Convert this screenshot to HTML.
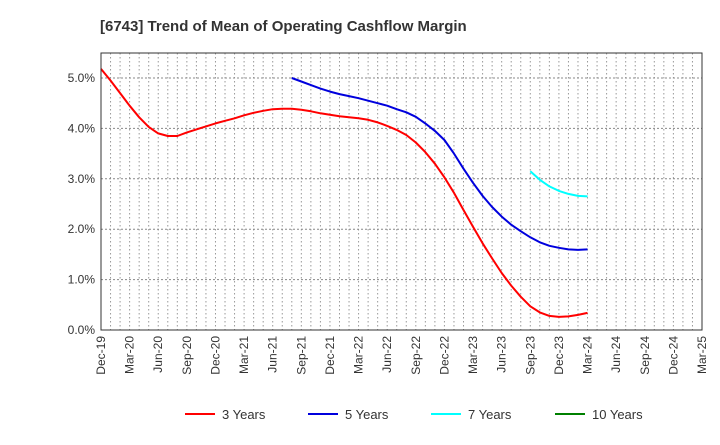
<!DOCTYPE html>
<html><head><meta charset="utf-8"><style>
body{margin:0;background:#fff;font-family:"Liberation Sans",sans-serif;}
</style></head><body>
<svg width="720" height="440" xmlns="http://www.w3.org/2000/svg" font-family="Liberation Sans, sans-serif">
<text x="100" y="31" font-size="15" font-weight="bold" fill="#333">[6743]  Trend of Mean of Operating Cashflow Margin</text>
<g id="grid"></g>
<g id="series"></g>
<g id="axes"></g>
<g id="legend"></g>
</svg>
<script>
const xTickLabels=["Dec-19","Mar-20","Jun-20","Sep-20","Dec-20","Mar-21","Jun-21","Sep-21","Dec-21","Mar-22","Jun-22","Sep-22","Dec-22","Mar-23","Jun-23","Sep-23","Dec-23","Mar-24","Jun-24","Sep-24","Dec-24","Mar-25"];
const yTickValues=[0,1,2,3,4,5];
const yTickLabels=["0.0%","1.0%","2.0%","3.0%","4.0%","5.0%"];
const seriesNames=["3 Years","5 Years","7 Years","10 Years"];
const seriesColors=["#ff0000","#0000dd","#00ffff","#008000"];
const seriesStart=[0,20,45,0];
const s3=[5.18,4.95,4.7,4.45,4.22,4.03,3.9,3.85,3.85,3.92,3.98,4.04,4.1,4.15,4.2,4.26,4.31,4.35,4.38,4.39,4.39,4.37,4.34,4.3,4.27,4.24,4.22,4.2,4.17,4.12,4.05,3.97,3.87,3.72,3.53,3.3,3.03,2.72,2.38,2.05,1.72,1.42,1.13,0.88,0.66,0.47,0.35,0.28,0.26,0.27,0.3,0.34];
const s5=[5.0,4.93,4.86,4.79,4.73,4.68,4.64,4.6,4.55,4.5,4.45,4.38,4.32,4.23,4.1,3.95,3.77,3.5,3.2,2.92,2.66,2.44,2.25,2.09,1.96,1.84,1.74,1.67,1.63,1.6,1.59,1.6];
const s7=[3.15,2.98,2.85,2.76,2.7,2.66,2.65];
const s10=[];
const X0=101,X1=702,Y0=330,YT=53,MONTHS=63;
const xs=m=>X0+(X1-X0)*m/MONTHS;
const ys=v=>Y0-v*50.4;
const NS="http://www.w3.org/2000/svg";
function mk(t,a,p){const e=document.createElementNS(NS,t);for(const k in a)e.setAttribute(k,a[k]);p.appendChild(e);return e;}
const grid=document.getElementById('grid'),axes=document.getElementById('axes'),ser=document.getElementById('series'),leg=document.getElementById('legend');
for(let m=1;m<MONTHS;m++){const l=mk('line',{x1:xs(m),x2:xs(m),y1:YT,y2:Y0,stroke:'#999','stroke-width':1,'stroke-dasharray':'1.5,2.5'},grid);

}
yTickValues.forEach((v,i)=>{if(v>0){const l=mk('line',{x1:X0,x2:X1,y1:ys(v),y2:ys(v),stroke:'#888','stroke-width':1,'stroke-dasharray':'2,2'},grid);

}
const t=mk('text',{x:X0-6,y:ys(v)+4,'text-anchor':'end','font-size':12,fill:'#333'},axes);t.textContent=yTickLabels[i];

});
xTickLabels.forEach((s,i)=>{const x=xs(i*3);const t=mk('text',{x:0,y:0,transform:`translate(${x+4},${Y0+6}) rotate(-90)`,'text-anchor':'end','font-size':12,fill:'#333'},axes);t.textContent=s;

});
const frame=mk('rect',{x:X0,y:YT,width:X1-X0,height:Y0-YT,fill:'none',stroke:'#333','stroke-width':1},axes);


[s3,s5,s7,s10].forEach((d,k)=>{if(!d.length)return;
const pts=d.map((v,i)=>xs(seriesStart[k]+i).toFixed(1)+','+ys(v).toFixed(1)).join(' ');
const p=mk('polyline',{points:pts,fill:'none',stroke:seriesColors[k],'stroke-width':2,'stroke-linejoin':'round'},ser);

});
const lx=[185,308,431,555];
seriesNames.forEach((n,k)=>{const g=mk('g',{},leg);


mk('line',{x1:lx[k],x2:lx[k]+30,y1:414,y2:414,stroke:seriesColors[k],'stroke-width':2},g);
const t=mk('text',{x:lx[k]+37,y:419,'font-size':13,fill:'#333'},g);t.textContent=n;});
</script>
</body></html>
